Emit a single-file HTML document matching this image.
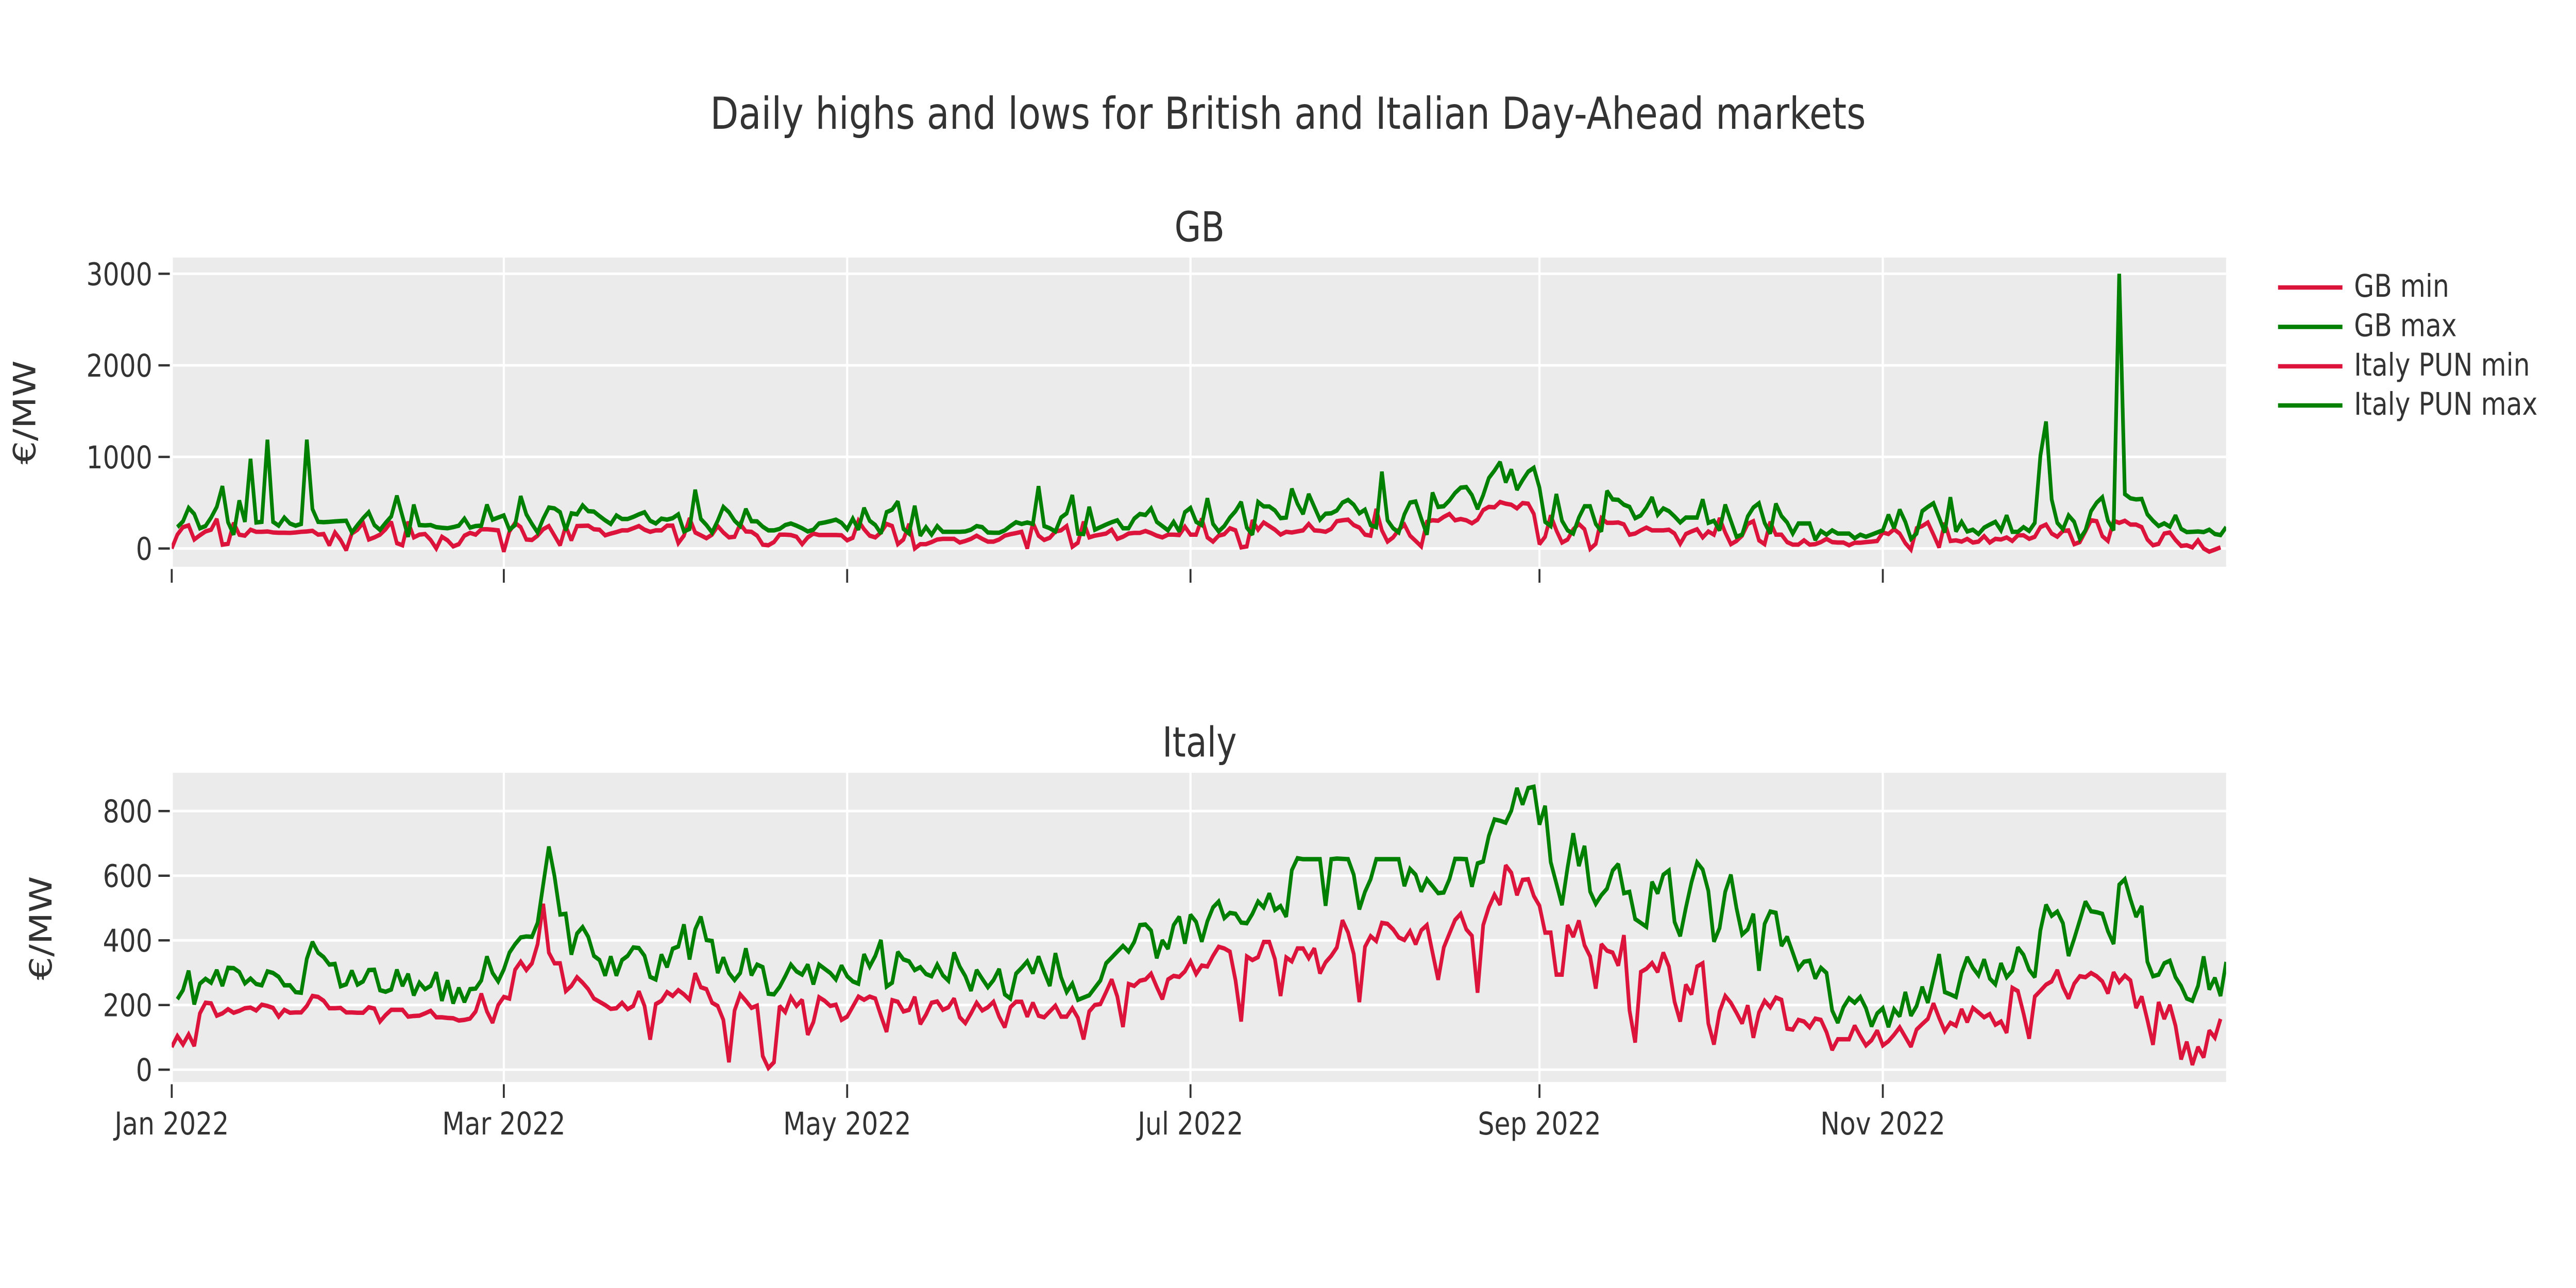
<!DOCTYPE html>
<html lang="en">
<head>
<meta charset="utf-8">
<title>Daily highs and lows for British and Italian Day-Ahead markets</title>
<style>
html,body{margin:0;padding:0;background:#fff;width:100%;height:100%;overflow:hidden;}
svg{display:block;width:100vw;height:100vh;}
text{font-family:"DejaVu Sans","Liberation Sans",sans-serif;fill:#333;}
</style>
</head>
<body>
<svg id="chart" xmlns="http://www.w3.org/2000/svg" viewBox="0 0 6000 2500" preserveAspectRatio="none">
  <defs>
    <clipPath id="clip-gb"><rect x="400" y="500" width="4785" height="600"/></clipPath>
    <clipPath id="clip-it"><rect x="400" y="1500" width="4785" height="600"/></clipPath>
  </defs>
  <rect x="0" y="0" width="6000" height="2500" fill="#ffffff"/>
  <text x="3000" y="250" font-size="86" text-anchor="middle">Daily highs and lows for British and Italian Day-Ahead markets</text>
  <text x="2794" y="468.5" font-size="80" text-anchor="middle">GB</text>
  <text x="2794" y="1468.5" font-size="80" text-anchor="middle">Italy</text>
  <text transform="translate(82,800.5) rotate(-90)" font-size="71.5" text-anchor="middle">€/MW</text>
  <text transform="translate(120,1801.5) rotate(-90)" font-size="71.5" text-anchor="middle">€/MW</text>
  <rect x="400" y="500" width="4785" height="600" fill="#ebebeb"/>
  <rect x="400" y="1500" width="4785" height="600" fill="#ebebeb"/>
  <g id="grid-layer"></g>
  <g id="tick-layer"></g>
  <g id="gb-series" clip-path="url(#clip-gb)"></g>
  <g id="it-series" clip-path="url(#clip-it)"></g>
  <g>
    <g>
      <line x1="5306" x2="5456" y1="558" y2="558" stroke="#dc143c" stroke-width="8.6"/>
      <text x="5483" y="576" font-size="60.5">GB min</text>
    </g>
    <g>
      <line x1="5306" x2="5456" y1="634.5" y2="634.5" stroke="#008000" stroke-width="8.6"/>
      <text x="5483" y="652.5" font-size="60.5">GB max</text>
    </g>
    <g>
      <line x1="5306" x2="5456" y1="711" y2="711" stroke="#dc143c" stroke-width="8.6"/>
      <text x="5483" y="729" font-size="60.5">Italy PUN min</text>
    </g>
    <g>
      <line x1="5306" x2="5456" y1="787" y2="787" stroke="#008000" stroke-width="8.6"/>
      <text x="5483" y="805" font-size="60.5">Italy PUN max</text>
    </g>
  </g>
</svg>
<script>
// Daily values (EUR/MW). Min series start 1 Jan 2022, max series start 2 Jan 2022.
const minStartDay = 0;
const maxStartDay = 1;
const xTickDays = [0, 59, 120, 181, 243, 304];
const xTickLabels = ["Jan 2022", "Mar 2022", "May 2022", "Jul 2022", "Sep 2022", "Nov 2022"];
const gbYTicks = [0, 1000, 2000, 3000];
const itYTicks = [0, 200, 400, 600, 800];

const gbMin = [
0,151,233,252,98,144,186,205,322,42,
51,280,151,140,205,182,182,186,175,172,
172,170,175,182,186,193,151,158,35,175,
93,-19,163,205,280,98,121,151,210,291,
58,35,291,121,151,158,93,0,128,89,
23,47,140,170,151,210,210,205,198,-35,
186,280,233,98,93,140,210,245,140,35,
245,89,245,247,249,210,205,144,163,179,
198,198,221,245,205,182,198,198,249,249,
58,140,331,175,144,112,151,245,175,121,
128,268,186,182,140,42,35,70,151,151,
147,128,47,121,163,147,147,147,147,144,
89,117,303,210,140,121,175,268,245,47,
98,268,0,47,47,70,98,105,105,105,
65,82,105,140,105,75,75,98,140,156,
168,182,0,280,140,93,117,186,198,245,
19,63,291,121,140,151,163,205,105,128,
163,170,170,191,168,140,121,151,151,147,
238,151,151,326,121,75,140,156,221,198,
12,23,308,205,284,245,205,151,182,175,
186,198,268,198,193,182,214,298,308,315,
256,228,151,140,431,198,75,121,205,261,
140,82,23,291,308,303,345,377,308,322,
308,275,315,419,454,450,508,489,478,438,
496,489,377,47,128,361,198,65,98,210,
268,210,-5,51,331,280,280,284,263,151,
163,198,228,198,198,198,205,163,51,158,
186,210,121,186,151,331,175,47,82,140,
268,298,89,47,291,151,151,70,42,42,
89,42,47,70,105,70,65,65,35,63,
63,70,75,82,175,158,210,163,58,-12,
221,245,284,151,12,280,82,89,75,105,
65,75,135,65,105,98,121,82,144,144,
105,128,233,261,163,128,191,198,47,70,
186,308,298,135,82,303,280,303,261,261,
233,98,35,51,163,175,93,28,35,12,
89,0,-35,-12,12
];

const gbMax = [
233,296,443,377,221,245,338,454,680,287,
151,524,291,979,284,291,1188,291,249,338,
273,249,268,1188,431,291,287,291,296,300,
303,175,256,331,396,256,203,280,350,576,
350,128,478,256,252,256,233,226,221,233,
249,326,228,245,249,478,315,338,361,205,
256,571,373,268,175,326,447,438,396,198,
384,373,471,408,403,354,308,268,361,322,
322,345,373,396,303,273,326,315,331,373,
186,214,641,322,256,175,303,454,396,303,
245,431,298,296,238,198,198,214,256,273,
249,221,186,205,273,284,298,315,280,210,
326,205,443,303,256,163,396,424,513,214,
163,466,140,233,151,245,182,182,182,182,
186,205,245,233,175,172,172,198,245,287,
268,284,268,680,245,221,186,338,384,583,
163,158,454,205,233,261,287,308,221,221,
326,377,366,438,291,245,198,291,186,396,
443,291,256,548,268,186,245,338,408,508,
228,151,508,459,459,415,331,338,652,489,
377,594,454,315,380,384,415,501,531,478,
384,424,256,233,839,308,221,175,373,501,
513,326,151,610,454,461,524,606,664,671,
583,431,583,769,850,944,722,862,641,746,
839,881,664,291,245,594,303,198,163,338,
461,461,268,186,629,536,531,478,454,331,
361,447,559,368,438,408,350,284,338,338,
338,536,280,303,198,478,303,128,151,350,
447,494,280,163,489,354,284,163,273,273,
273,93,191,151,198,163,163,163,112,151,
128,151,175,198,368,221,424,291,105,163,
408,454,494,338,175,559,186,291,186,205,
158,228,261,291,198,361,182,182,233,191,
280,1014,1386,536,280,210,361,291,105,198,
408,501,559,303,198,3000,594,548,536,541,
373,303,245,275,238,361,214,179,182,186,
179,205,158,147,233
];

const itMin = [
70,104,78,109,73,174,207,205,167,174,
187,176,182,190,192,183,201,197,191,164,
185,176,177,177,197,228,225,213,190,190,
191,177,177,176,176,193,189,149,169,185,
185,185,164,166,167,174,182,162,162,160,
159,152,154,158,180,235,180,145,200,225,
220,309,334,308,329,388,513,362,329,329,
243,259,286,269,249,220,210,200,188,190,
207,187,197,242,197,93,203,213,240,228,
246,233,216,298,255,249,207,197,154,23,
183,233,213,191,198,42,5,23,197,178,
224,197,216,108,147,224,213,197,201,154,
164,195,226,216,226,220,167,117,215,210,
180,185,225,141,170,207,211,185,193,220,
162,144,174,207,183,193,210,164,131,193,
210,210,164,207,167,162,180,198,164,164,
190,160,94,180,200,203,240,279,226,132,
265,259,275,279,297,256,218,279,290,287,
304,335,296,322,319,352,380,375,365,276,
149,350,339,348,395,395,342,228,347,335,
375,375,345,375,298,332,352,378,462,424,
358,209,380,413,398,454,451,434,409,401,
428,388,431,447,362,278,378,421,463,482,
434,414,238,447,502,541,510,632,609,540,
587,589,537,507,424,424,294,294,447,411,
461,385,350,251,388,368,362,322,416,183,
84,302,312,330,302,362,319,210,149,263,
233,319,329,143,78,180,228,207,176,143,
199,99,177,213,193,223,216,127,124,154,
149,131,158,154,116,61,94,94,94,136,
104,75,91,121,75,88,108,131,101,71,
124,141,157,205,160,119,145,136,187,147,
191,177,162,172,139,149,114,253,243,174,
96,226,244,263,273,308,256,220,266,289,
286,299,289,273,236,301,271,291,276,191,
226,154,77,209,157,200,136,32,86,15,
70,38,121,99,157
];

const itMax = [
218,246,306,202,266,281,269,308,259,315,
314,302,267,282,265,261,304,299,287,261,
261,240,238,343,395,362,348,325,327,258,
264,306,263,273,308,309,246,241,248,309,
259,296,230,269,249,259,301,213,276,205,
253,209,249,251,276,350,299,273,310,362,
388,409,412,411,454,573,690,599,480,482,
356,421,441,411,352,339,291,350,291,339,
352,378,376,352,287,279,356,317,374,381,
449,341,434,473,401,398,299,347,299,277,
299,375,292,325,317,235,233,256,289,325,
304,294,325,264,325,312,299,279,322,289,
273,266,357,319,352,401,257,269,364,341,
335,308,317,296,289,325,292,275,362,319,
289,244,308,281,255,277,311,233,220,297,
315,335,298,350,302,259,360,286,240,266,
216,223,230,253,276,329,347,365,383,365,
395,447,449,430,345,400,374,447,473,390,
479,457,396,459,502,520,469,485,482,455,
453,482,520,502,545,494,506,473,617,654,
651,651,651,651,507,651,653,652,651,603,
496,550,589,651,651,651,651,651,568,621,
603,551,589,568,546,548,589,652,652,651,
566,638,644,723,774,770,764,801,871,820,
871,875,758,816,642,576,509,626,731,630,
692,551,513,540,560,616,636,546,550,466,
454,442,581,545,603,616,457,413,500,579,
641,619,553,396,438,550,603,500,418,434,
482,306,451,489,485,383,411,362,312,334,
337,282,315,299,183,145,193,221,207,225,
190,134,174,190,132,187,165,240,167,197,
256,207,282,357,240,233,225,299,348,315,
292,341,282,264,329,286,306,378,355,309,
286,431,510,476,489,453,352,405,462,520,
490,487,482,428,389,572,589,527,473,506,
334,289,294,329,337,286,259,220,213,259,
350,248,284,228,333
];

// Axis functions
function xScale(day) { return 400 + 13.11 * day; }
function yGb(v) { return 1064.6 - 0.17775 * v; }
function yIt(v) { return 2076.2 - 0.6275 * v; }

const NS = "http://www.w3.org/2000/svg";
const gridLayer = document.getElementById("grid-layer");
const tickLayer = document.getElementById("tick-layer");
const gbLayer = document.getElementById("gb-series");
const itLayer = document.getElementById("it-series");

function makeLine(parent, x1, y1, x2, y2, color, width) {
  const el = document.createElementNS(NS, "line");
  el.setAttribute("x1", x1);
  el.setAttribute("y1", y1);
  el.setAttribute("x2", x2);
  el.setAttribute("y2", y2);
  el.setAttribute("stroke", color);
  el.setAttribute("stroke-width", width);
  parent.appendChild(el);
  return el;
}

function makeLabel(parent, x, y, anchor, content) {
  const el = document.createElementNS(NS, "text");
  el.setAttribute("x", x);
  el.setAttribute("y", y);
  el.setAttribute("text-anchor", anchor);
  el.setAttribute("font-size", "60.5");
  el.textContent = content;
  parent.appendChild(el);
  return el;
}

function drawYAxis(ticks, scale, panel) {
  ticks.forEach(function (t) {
    const y = scale(t);
    const panelLeft = 400;
    const panelRight = 5185;
    const grid = makeLine(gridLayer, panelLeft, y, panelRight, y, "#ffffff", 5);
    
    
    const tick = makeLine(tickLayer, 369, y, 395.5, y, "#333333", 4.5);
    
    
    const label = makeLabel(tickLayer, 355, y + 22, "end", String(t));
    
    
    label.setAttribute('data-panel', panel);
  });
}

function drawXAxis() {
  xTickDays.forEach(function (d, i) {
    const x = xScale(d);
    const gridTop = makeLine(gridLayer, x, 500, x, 1100, "#ffffff", 5);
    
    
    const gridBottom = makeLine(gridLayer, x, 1500, x, 2100, "#ffffff", 5);
    
    
    const tickTop = makeLine(tickLayer, x, 1104.5, x, 1131, "#333333", 4.5);
    
    
    const tickBottom = makeLine(tickLayer, x, 2104.5, x, 2131, "#333333", 4.5);
    
    
    const label = makeLabel(tickLayer, x, 2202, "middle", xTickLabels[i]);
    
    
  });
}

function pathFor(values, startDay, yScale) {
  let d = "";
  values.forEach(function (v, i) {
    d += (i === 0 ? "M" : "L") + xScale(startDay + i).toFixed(2) + "," + yScale(v).toFixed(2);
  });
  return d;
}

function drawSeries(parent, values, startDay, yScale, color) {
  const el = document.createElementNS(NS, "path");
  el.setAttribute("d", pathFor(values, startDay, yScale));
  el.setAttribute("fill", "none");
  el.setAttribute("stroke", color);
  el.setAttribute("stroke-width", "8.6");
  el.setAttribute("stroke-linejoin", "miter");
  el.setAttribute("stroke-miterlimit", "2");
  parent.appendChild(el);
  return el;
}

drawYAxis(gbYTicks, yGb, "gb");
drawYAxis(itYTicks, yIt, "italy");
drawXAxis();

const lineGbMin = drawSeries(gbLayer, gbMin, minStartDay, yGb, "#dc143c");


const lineGbMax = drawSeries(gbLayer, gbMax, maxStartDay, yGb, "#008000");


const lineItMin = drawSeries(itLayer, itMin, minStartDay, yIt, "#dc143c");


const lineItMax = drawSeries(itLayer, itMax, maxStartDay, yIt, "#008000");


</script>
</body>
</html>
